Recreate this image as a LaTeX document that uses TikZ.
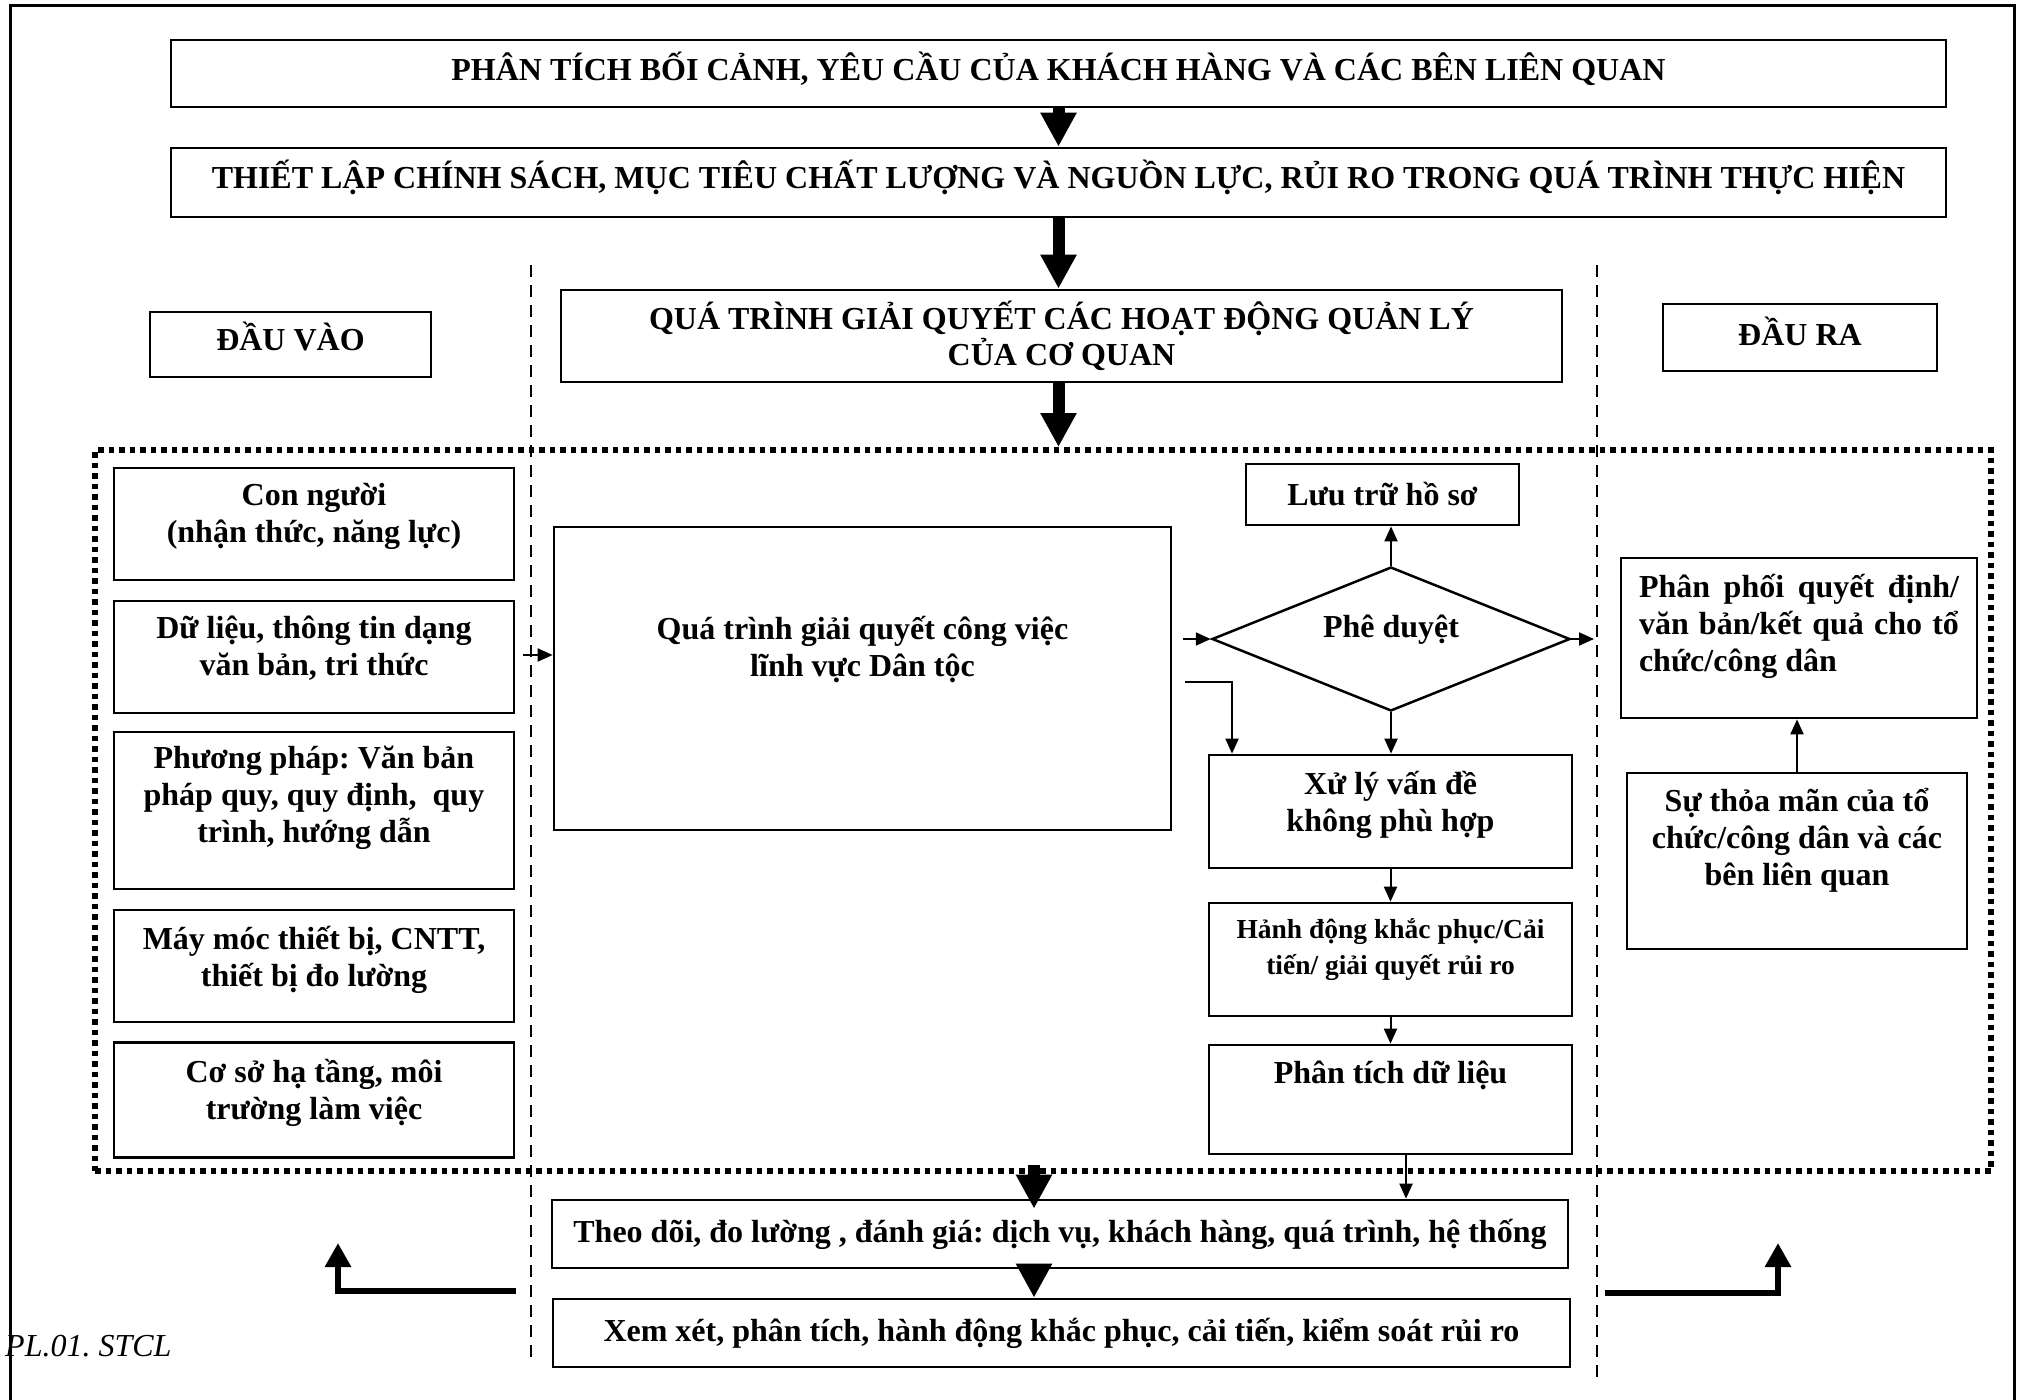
\documentclass[tikz,border=0pt]{standalone}
\usepackage{fontspec}
\setmainfont{Liberation Serif}
\usetikzlibrary{arrows.meta,shapes.geometric,calc}
\frenchspacing
\tikzset{
 bx/.style={draw, line width=2.7pt, inner sep=0pt, rectangle},
 txt/.style={font=\bfseries\fontsize{32}{37}\selectfont, align=center, inner sep=0pt},
 head/.style={font=\bfseries\fontsize{32}{36}\selectfont, align=center, inner sep=0pt},
 thinarr/.style={line width=2pt, -{Triangle[length=15pt,width=13pt]}},
 fatarr/.style={line width=12pt, -{Triangle[length=34pt,width=34pt]}},
 retarr/.style={line width=6pt, line join=miter, -{Triangle[length=24pt,width=25pt]}},
 dsh/.style={line width=2pt, dash pattern=on 12pt off 8pt},
 dotbox/.style={draw, line width=6pt, dash pattern=on 5.5pt off 5pt, inner sep=0pt, rectangle},
}
\begin{document}
\frenchspacing
\begin{tikzpicture}[x=1pt,y=-1pt]
\useasboundingbox (0,0) rectangle (2024,1400);
% frame
\draw[line width=3pt] (10,1400) -- (10,5) -- (2014,5) -- (2014,1400);
% dashed separators
\draw[dsh] (531,265) -- (531,1358);
\draw[dsh] (1597,265) -- (1597,1379);
% dotted region
\node[dotbox, minimum width=1896pt, minimum height=721pt] (reg) at (1043,810.5) {};
% top boxes
\node[bx, minimum width=1775pt, minimum height=67pt] (b1) at (1058.5,73.5) {};
\node[head, anchor=base] (b1t) at (1058.5,80) {PHÂN TÍCH BỐI CẢNH, YÊU CẦU CỦA KHÁCH HÀNG VÀ CÁC BÊN LIÊN QUAN};
\node[bx, minimum width=1775pt, minimum height=69pt] (b2) at (1058.5,182.5) {};
\node[head, anchor=base] (b2t) at (1058.5,188.5) {THIẾT LẬP CHÍNH SÁCH, MỤC TIÊU CHẤT LƯỢNG VÀ NGUỒN LỰC, RỦI RO TRONG QUÁ TRÌNH THỰC HIỆN};
\node[bx, minimum width=281pt, minimum height=65pt] (in) at (290.5,344.5) {};
\node[head, anchor=base] (int) at (290.5,350) {ĐẦU VÀO};
\node[bx, head, minimum width=1001pt, minimum height=92pt] (proc) at (1061.5,336) {QUÁ TRÌNH GIẢI QUYẾT CÁC HOẠT ĐỘNG QUẢN LÝ\\CỦA CƠ QUAN};
\node[bx, minimum width=274pt, minimum height=67pt] (out) at (1800,337.5) {};
\node[head, anchor=base] (outt) at (1800,345) {ĐẦU RA};
\draw[fatarr] (b1.south) -- (b2.north);
\draw[fatarr] (b2.south) -- (b2.south |- proc.north);
\draw[fatarr] (proc.south -| b1.south) -- (reg.north -| b1.south);
% left column
\node[bx, minimum width=400pt, minimum height=112pt] (con) at (314,524) {};
\node[txt] (cont) at (314,516) {Con người\\(nhận thức, năng lực)};
\node[bx, minimum width=400pt, minimum height=112pt] (dl) at (314,657) {};
\node[txt] (dlt) at (314,648) {Dữ liệu, thông tin dạng\\văn bản, tri thức};
\node[bx, minimum width=400pt, minimum height=157pt] (pp) at (314,810.5) {};
\node[txt] (ppt) at (314,798) {Phương pháp: Văn bản\\pháp quy, quy định, \ quy\\trình, hướng dẫn};
\node[bx, minimum width=400pt, minimum height=112pt] (mm) at (314,966) {};
\node[txt] (mmt) at (314,960) {Máy móc thiết bị, CNTT,\\thiết bị đo lường};
\node[bx, minimum width=400pt, minimum height=115pt] (cs) at (314,1100) {};
\node[txt] (cst) at (314,1093) {Cơ sở hạ tầng, môi\\trường làm việc};
% central process
\node[bx, minimum width=617pt, minimum height=303pt] (big) at (862.5,678.5) {};
\node[txt] (bigt) at (862.5,649) {Quá trình giải quyết công việc\\lĩnh vực Dân tộc};
\coordinate (in1) at (523,655);
\draw[thinarr] (in1) -- (big.west |- in1);
% diamond
\node[draw, diamond, line width=2.5pt, minimum width=358pt, minimum height=144pt, inner sep=0pt, aspect=2.49] (dia) at (1391,639) {};
\node[txt] (diat) at (1391,630) {Phê duyệt};
\node[bx, txt, minimum width=273pt, minimum height=61pt] (luu) at (1382.5,494.5) {Lưu trữ hồ sơ};
\node[bx, minimum width=363pt, minimum height=113pt] (xl) at (1390.5,811.5) {};
\node[txt] (xlt) at (1390.5,805) {Xử lý vấn đề\\không phù hợp};
\node[bx, minimum width=363pt, minimum height=113pt] (hd) at (1390.5,959.5) {};
\node[txt, font=\bfseries\fontsize{27.5}{36}\selectfont] (hdt) at (1390.5,950) {Hảnh động khắc phục/Cải\\tiến/ giải quyết rủi ro};
\node[bx, minimum width=363pt, minimum height=109pt] (pt) at (1390.5,1099.5) {};
\node[txt] (ptt) at (1390.5,1075) {Phân tích dữ liệu};
\coordinate (d1) at (1183,639);
\draw[thinarr] (d1) -- (dia.west);
\coordinate (e1) at (1185,682);
\coordinate (e2) at (1232,682);
\draw[thinarr] (e1) -- (e2) -- (e2 |- xl.north);
\draw[thinarr] (dia.north) -- (dia.north |- luu.south);
\coordinate (d2) at (1594,639);
\draw[thinarr] (dia.east) -- (d2);
\draw[thinarr] (dia.south) -- (dia.south |- xl.north);
\draw[thinarr] (xl.south) -- (hd.north);
\draw[thinarr] (hd.south) -- (pt.north);
% bottom
\node[bx, txt, minimum width=1016pt, minimum height=68pt] (theo) at (1060,1234) {Theo dõi, đo lường , đánh giá: dịch vụ, khách hàng, quá trình, hệ thống};
\node[bx, txt, minimum width=1017pt, minimum height=68pt] (xem) at (1061.5,1333) {Xem xét, phân tích, hành động khắc phục, cải tiến, kiểm soát rủi ro};
\coordinate (p1) at (1406,1154);
\draw[thinarr] (pt.south -| p1) -- (theo.north -| p1);
\coordinate (f1) at (1034,1165);
\draw[fatarr, shorten >=-10pt] (f1) -- (f1 |- theo.north);
\draw[fatarr] (theo.south -| f1) -- (xem.north -| f1);
% right column
\node[bx, minimum width=356pt, minimum height=160pt] (ppk) at (1799,638) {};
\node[txt, text width=320pt, align=justify] (ppkt) at (1799,626) {\noindent Phân phối quyết định/\linebreak văn bản/kết quả cho tổ\linebreak chức/công dân};
\node[bx, minimum width=340pt, minimum height=176pt] (stm) at (1797,861) {};
\node[txt] (stmt) at (1797,840) {Sự thỏa mãn của tổ\\chức/công dân và các\\bên liên quan};
\draw[thinarr] (stm.north) -- (stm.north |- ppk.south);
% return arrows
\coordinate (rl1) at (516,1291);
\coordinate (rl2) at (338,1291);
\coordinate (rl3) at (338,1243);
\draw[retarr] (rl1) -- (rl2) -- (rl3);
\coordinate (rr1) at (1605,1293);
\coordinate (rr2) at (1778,1293);
\coordinate (rr3) at (1778,1243);
\draw[retarr] (rr1) -- (rr2) -- (rr3);
% label
\node[font=\itshape\fontsize{32}{37}\selectfont, anchor=west, inner sep=0pt] (pl) at (5,1346) {PL.01. STCL};
\end{tikzpicture}
\end{document}
